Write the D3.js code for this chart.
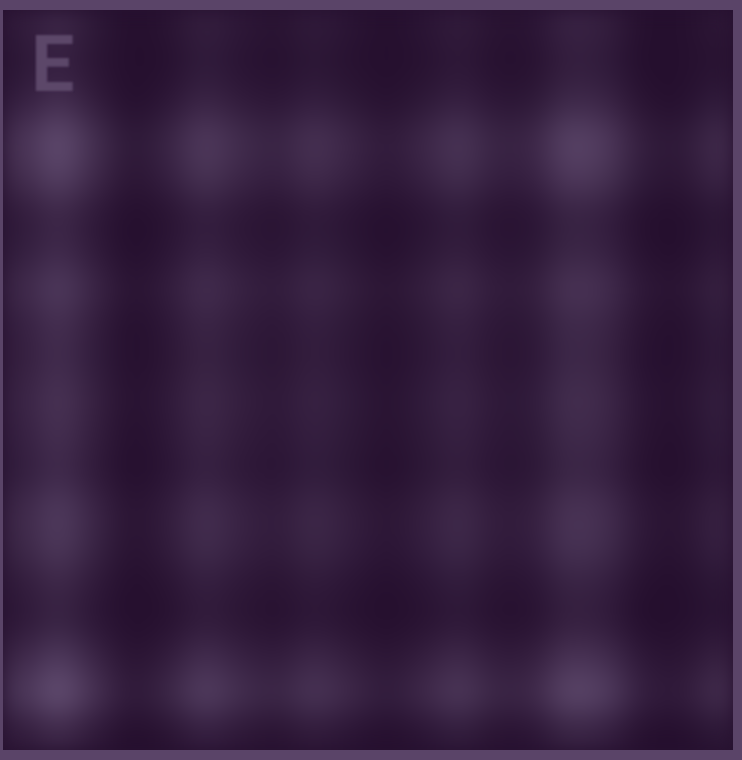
<!DOCTYPE html>
<html><head><meta charset="utf-8">
<script src="https://cdn.jsdelivr.net/npm/d3@7"></script>
<style>
html,body{margin:0;padding:0;background:#5a4468;}
#wrap{position:relative;width:742px;height:760px;background:#5a4468;}
#wrap canvas,#wrap svg{position:absolute;left:0;top:0;}
</style>
</head><body>
<div id="wrap"></div>
<script>
const panelLabel = "E";
const rowIds = d3.range(20).map(i => "r" + i);
const colIds = d3.range(20).map(i => "c" + i);
const values = [
 [24,42,22,6,14,30,20,14,24,16,8,16,26,14,16,36,30,10,6,18],
 [19,35,18,4,11,25,16,11,19,12,5,12,21,11,12,30,25,7,4,14],
 [32,55,30,10,20,40,27,20,32,22,12,22,35,20,22,47,40,15,10,25],
 [58,94,54,22,38,70,50,38,58,42,26,42,62,38,42,82,70,30,22,46],
 [49,81,46,18,32,60,42,32,49,35,21,35,53,32,35,70,60,25,18,39],
 [26,45,24,7,15,32,21,15,26,17,9,17,28,15,17,38,32,11,7,19],
 [28,48,26,8,17,35,23,17,28,19,10,19,30,17,19,41,35,12,8,21],
 [43,71,40,15,27,52,36,27,43,30,18,30,46,27,30,61,52,21,15,33],
 [32,55,30,10,20,40,27,20,32,22,12,22,35,20,22,47,40,15,10,25],
 [30,51,28,9,18,37,25,18,30,20,11,20,32,18,20,44,37,13,9,23],
 [36,61,34,12,23,45,31,23,36,25,14,25,39,23,25,53,45,17,12,28],
 [32,55,30,10,20,40,27,20,32,22,12,22,35,20,22,47,40,15,10,25],
 [28,48,26,8,17,35,23,17,28,19,10,19,30,17,19,41,35,12,8,21],
 [43,71,40,15,27,52,36,27,43,30,18,30,46,27,30,61,52,21,15,33],
 [41,68,38,14,26,50,35,26,41,29,17,29,44,26,29,59,50,20,14,32],
 [26,45,24,7,15,32,21,15,26,17,9,17,28,15,17,38,32,11,7,19],
 [21,38,20,5,12,27,18,12,21,14,6,14,23,12,14,33,27,8,5,16],
 [43,71,40,15,27,52,36,27,43,30,18,30,46,27,30,61,52,21,15,33],
 [62,100,58,24,41,75,53,41,62,45,28,45,66,41,45,87,75,32,24,49],
 [26,45,24,7,15,32,21,15,26,17,9,17,28,15,17,38,32,11,7,19]
];

const W = 742, H = 760;
const inner = {x: 3, y: 10, w: 730, h: 740};
const color = d3.scaleLinear().domain([8, 100]).range(["#250f2e", "#634e72"])
  .interpolate(d3.interpolateRgb).clamp(true);

// low-resolution heatmap, one pixel per cell
const small = document.createElement("canvas");
small.width = colIds.length; small.height = rowIds.length;
const sctx = small.getContext("2d");
const xs = d3.scaleBand().domain(colIds).range([0, colIds.length]);
const ys = d3.scaleBand().domain(rowIds).range([0, rowIds.length]);
values.forEach((row, i) => row.forEach((v, j) => {
  sctx.fillStyle = color(v);
  sctx.fillRect(xs(colIds[j]), ys(rowIds[i]), xs.bandwidth(), ys.bandwidth());
}));

const wrap = d3.select("#wrap");
const canvas = wrap.append("canvas").attr("width", W).attr("height", H).node();
const ctx = canvas.getContext("2d");
ctx.fillStyle = "#5a4468";
ctx.fillRect(0, 0, W, H);
ctx.save();
ctx.beginPath(); ctx.rect(inner.x, inner.y, inner.w, inner.h); ctx.clip();
ctx.fillStyle = "#26102f";
ctx.fillRect(inner.x, inner.y, inner.w, inner.h);
ctx.imageSmoothingEnabled = true;
ctx.imageSmoothingQuality = "high";
ctx.filter = "blur(9px)";
ctx.drawImage(small, inner.x, inner.y, inner.w, inner.h);
ctx.restore();

const svg = wrap.append("svg").attr("width", W).attr("height", H);
const tblur = svg.append("defs").append("filter").attr("id", "tblur");
tblur.append("feGaussianBlur").attr("stdDeviation", 1.2);
svg.append("text").attr("x", 31).attr("y", 91)
  .attr("font-family", "Roboto, Liberation Sans, sans-serif").attr("font-weight", "bold")
  .attr("font-size", 77).attr("fill", "#5b4669").attr("filter", "url(#tblur)")
  .text(panelLabel);
</script>
</body></html>
